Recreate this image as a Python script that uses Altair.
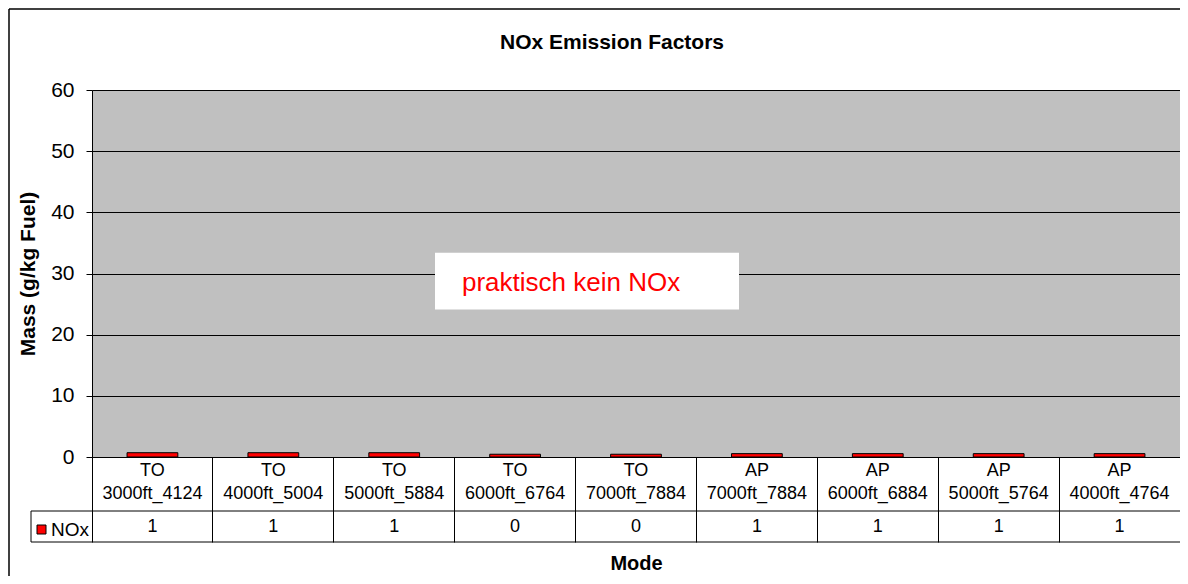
import altair as alt
import pandas as pd

# ---- data ----
modes = ["TO 3000ft_4124", "TO 4000ft_5004", "TO 5000ft_5884", "TO 6000ft_6764",
         "TO 7000ft_7884", "AP 7000ft_7884", "AP 6000ft_6884", "AP 5000ft_5764",
         "AP 4000ft_4764"]
nox = [0.7, 0.7, 0.7, 0.45, 0.45, 0.55, 0.55, 0.55, 0.55]
series = ["NOx"]
y_ticks = [0, 10, 20, 30, 40, 50, 60]
title_text = "NOx Emission Factors"
x_title = "Mode"
y_title = "Mass (g/kg Fuel)"
annotation = ["praktisch kein NOx"]

df = pd.DataFrame({"mode": modes, "NOx": nox})
one = pd.DataFrame({"k": [0]})
leg = pd.DataFrame({"series": series})
ann = pd.DataFrame({"note": annotation})

W, H = 1088, 367
FONT = "Liberation Sans"

xscale = alt.Scale(paddingInner=0, paddingOuter=0)
xenc = alt.X("mode:N", sort=modes, scale=xscale,
             axis=alt.Axis(labels=False, bandPosition=0, tickSize=85,
                           tickColor="black", domainColor="black",
                           tickWidth=1, domainWidth=1,
                           title=x_title, titleFontSize=20, titleFontWeight="bold",
                           titleColor="black", titlePadding=11))
yscale = alt.Scale(domain=[0, 60])

bars = alt.Chart(df).mark_bar(
    width={"band": 0.42}, color="#FF0000", stroke="black", strokeWidth=1
).encode(
    x=xenc,
    y=alt.Y("NOx:Q", scale=yscale,
            axis=alt.Axis(values=y_ticks, grid=True, gridColor="black", gridWidth=1,
                          domainColor="black", tickColor="black", tickSize=6,
                          labelFontSize=21, labelColor="black", labelPadding=12,
                          title=y_title, titleFontSize=21, titleFontWeight="bold",
                          titleColor="black", titlePadding=12)),
)

# annotation box
box = alt.Chart(ann).mark_rect(color="white").encode(
    x=alt.value(343), x2=alt.value(647),
    y=alt.datum(33.4, scale=yscale), y2=alt.datum(24.1),
)
box_text = alt.Chart(ann).mark_text(
    color="#FF0000", fontSize=26, align="left", baseline="middle"
).encode(x=alt.value(370), y=alt.datum(28.4), text="note:N")

# data table
cat_labels = alt.Chart(df).mark_text(
    lineBreak=" ", baseline="top", fontSize=18, lineHeight=23, color="black"
).encode(x=alt.X("mode:N", sort=modes), y=alt.value(372), text="mode:N")

val_labels = alt.Chart(df).mark_text(
    baseline="middle", fontSize=18, color="black"
).encode(x=alt.X("mode:N", sort=modes), y=alt.value(437),
         text=alt.Text("NOx:Q", format=".0f"))

row_line1 = alt.Chart(one).mark_rule(color="black", strokeWidth=1).encode(
    x=alt.value(-61), x2=alt.value(W), y=alt.value(421))
row_line2 = alt.Chart(one).mark_rule(color="black", strokeWidth=1).encode(
    x=alt.value(-61), x2=alt.value(W), y=alt.value(452))
leg_left = alt.Chart(one).mark_rule(color="black", strokeWidth=1).encode(
    x=alt.value(-61), y=alt.value(421), y2=alt.value(452))

leg_sq = alt.Chart(leg).mark_square(
    size=81, color="#FF0000", stroke="black", strokeWidth=1, opacity=1
).encode(x=alt.value(-50.5), y=alt.value(439.5))
leg_txt = alt.Chart(leg).mark_text(
    align="left", baseline="middle", fontSize=19, color="black"
).encode(x=alt.value(-41), y=alt.value(440), text="series:N")

# outer chart frame
frame_top = alt.Chart(one).mark_rule(color="black", strokeWidth=1.5).encode(
    x=alt.value(-83), x2=alt.value(W), y=alt.value(-81))
frame_left = alt.Chart(one).mark_rule(color="black", strokeWidth=1.5).encode(
    x=alt.value(-83), y=alt.value(-81), y2=alt.value(500))

chart = alt.layer(
    bars, box, box_text, cat_labels, val_labels,
    row_line1, row_line2, leg_left, leg_sq, leg_txt, frame_top, frame_left
).properties(
    width=W, height=H,
    title=alt.TitleParams(title_text, fontSize=21, fontWeight="bold", color="black",
                          anchor="middle", dx=-24, offset=29, dy=74),
    padding={"left": 84, "top": 82, "right": 0, "bottom": 119},
    autosize=alt.AutoSizeParams(type="none"),
).configure(font=FONT).configure_view(fill="#C0C0C0", strokeWidth=0)

chart.save("out.html", embed_options={"renderer": "svg", "actions": False})
